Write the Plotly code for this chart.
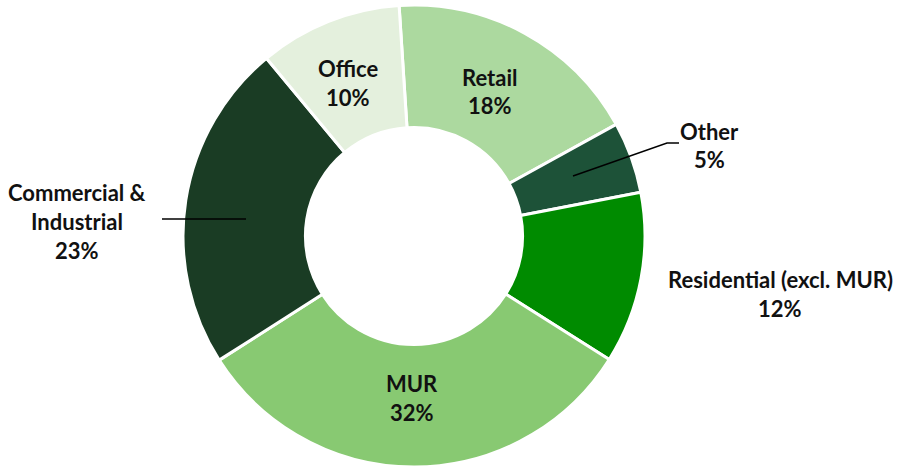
import plotly.graph_objects as go

# Share of floor space by property type (clockwise from 12 o'clock)
categories = ["Retail", "Other", "Residential (excl. MUR)", "MUR", "Commercial &\nIndustrial", "Office"]
shares = [18, 5, 12, 32, 23, 10]
colors = ["#acd99f", "#1d5238", "#008b00", "#88c972", "#1a3c24", "#e4f0dd"]

W, H = 898, 467

fig = go.Figure(
    go.Pie(
        values=shares,
        labels=[c.replace("\n", " ") for c in categories],
        sort=False,
        direction="clockwise",
        rotation=-3.7,
        hole=0.47,
        marker=dict(colors=colors, line=dict(color="white", width=3)),
        textinfo="none",
        hoverinfo="label+percent",
        domain=dict(x=[0, 828 / W], y=[0, 462 / H]),
        showlegend=False,
    )
)

# label anchor (pixel centre of the first line) for each category
label_pos = {
    "Retail": (490, 77),
    "Other": (709, 131),
    "Residential (excl. MUR)": (780, 279),
    "MUR": (412, 383),
    "Commercial &\nIndustrial": (77, 192),
    "Office": (348, 68),
}
LINE_H = 29

annotations = []
for cat, val in zip(categories, shares):
    x0, y0 = label_pos[cat]
    lines = cat.split("\n") + [f"{val}%"]
    for i, line in enumerate(lines):
        annotations.append(dict(
            x=x0 / W, y=1 - (y0 + i * LINE_H) / H,
            xref="paper", yref="paper",
            text=f"<b>{line}</b>", showarrow=False,
            xanchor="center", yanchor="middle",
            font=dict(family="Lato", size=22, color="#111111"),
        ))

def px(x, y):
    return x / W, 1 - y / H

# leader lines
shapes = []
for pts in [[(573, 176), (667, 143), (679, 143)], [(162, 219), (246, 219)]]:
    path = "M " + " L ".join(f"{px(*p)[0]} {px(*p)[1]}" for p in pts)
    shapes.append(dict(type="path", path=path, xref="paper", yref="paper",
                       line=dict(color="black", width=1.5)))

fig.update_layout(
    width=W, height=H,
    margin=dict(l=0, r=0, t=0, b=0),
    paper_bgcolor="white", plot_bgcolor="white",
    annotations=annotations, shapes=shapes,
)

fig.write_html("out.html")
